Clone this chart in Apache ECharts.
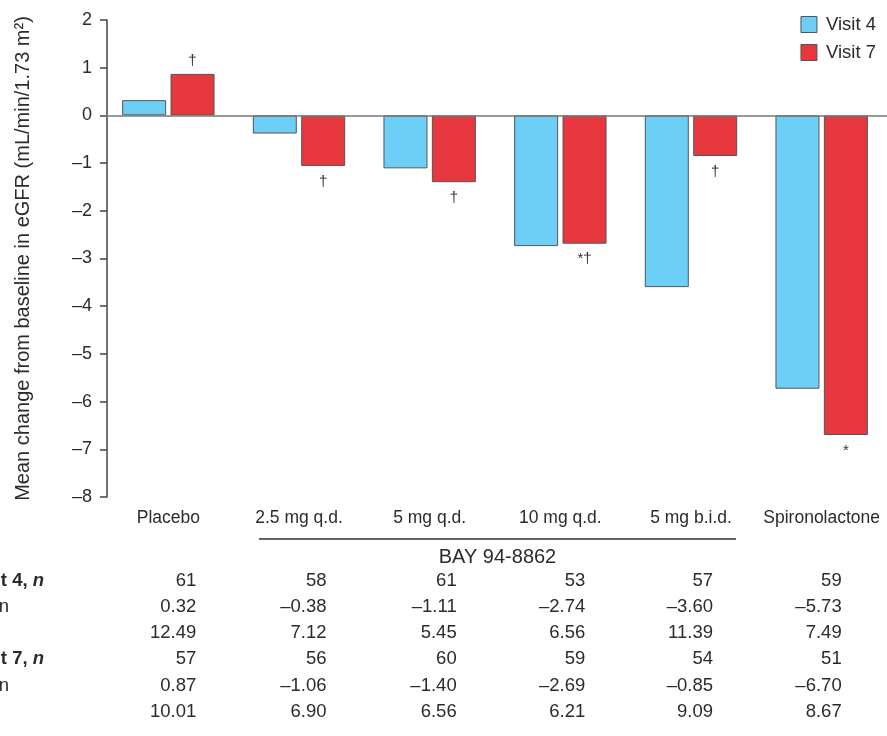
<!DOCTYPE html>
<html>
<head>
<meta charset="utf-8">
<script src="https://cdn.jsdelivr.net/npm/echarts@6/dist/echarts.min.js"></script>
<style>
  html, body { margin: 0; padding: 0; background: #fff; }
  #chart { width: 887px; height: 736px; }
</style>
</head>
<body>
<div id="chart"></div>
<script>
// Treatment groups along the category axis
const categories = ['Placebo', '2.5 mg q.d.', '5 mg q.d.', '10 mg q.d.', '5 mg b.i.d.', 'Spironolactone'];

// Mean change from baseline in eGFR
const visit4Mean = [0.32, -0.38, -1.11, -2.74, -3.60, -5.73];
const visit7Mean = [0.87, -1.06, -1.40, -2.69, -0.85, -6.70];

// Significance markers shown against the Visit 7 bars
const visit7Marks = ['†', '†', '†', '*†', '†', '*'];

// Summary table under the chart
const visit4N = [61, 58, 61, 53, 57, 59];
const visit4SD = [12.49, 7.12, 5.45, 6.56, 11.39, 7.49];
const visit7N = [57, 56, 60, 59, 54, 51];
const visit7SD = [10.01, 6.90, 6.56, 6.21, 9.09, 8.67];

// Y-axis range
const yMin = -8, yMax = 2, yStep = 1;

const FONT = '"Liberation Sans", Arial, Helvetica, sans-serif';
const TEXT = '#2b2b2b';
const CYAN = '#6dcff6';
const RED = '#e8383f';
const EDGE = '#555';

const dash = v => String(v).replace('-', '–');
const fmt2 = v => dash(v.toFixed(2));

const chart = echarts.init(document.getElementById('chart'), null, { renderer: 'canvas' });

chart.setOption({
  animation: false,
  backgroundColor: '#fff',
  textStyle: { fontFamily: FONT, color: TEXT },
  grid: { left: 103, top: 20, width: 785, height: 477, containLabel: false },
  legend: {
    orient: 'vertical',
    right: 6,
    top: 10,
    icon: 'rect',
    itemWidth: 16,
    itemHeight: 16,
    itemGap: 9,
    itemStyle: { borderColor: EDGE, borderWidth: 1 },
    textStyle: { fontFamily: FONT, fontSize: 18.5, color: TEXT, padding: [0, 0, 0, 4] },
    data: ['Visit 4', 'Visit 7']
  },
  xAxis: {
    type: 'category',
    data: categories,
    axisLine: { show: false },
    axisTick: { show: false },
    axisLabel: { fontFamily: FONT, fontSize: 17.5, color: TEXT, margin: 12, interval: 0 }
  },
  yAxis: {
    type: 'value',
    min: yMin,
    max: yMax,
    interval: yStep,
    offset: -4,
    name: 'Mean change from baseline in eGFR (mL/min/1.73 m²)',
    nameLocation: 'middle',
    nameRotate: 90,
    nameGap: 74,
    nameTextStyle: { fontFamily: FONT, fontSize: 20, color: TEXT },
    splitLine: { show: false },
    axisLine: { show: true, lineStyle: { color: '#444', width: 1.5 } },
    axisTick: { show: true, length: 7, lineStyle: { color: '#444', width: 1.5 } },
    axisLabel: { fontFamily: FONT, fontSize: 18, color: TEXT, margin: 15, formatter: v => dash(v) }
  },
  series: [
    {
      name: 'Visit 4',
      type: 'bar',
      data: visit4Mean,
      barWidth: 44,
      barGap: '10%',
      barCategoryGap: '28%',
      itemStyle: { color: CYAN, borderColor: EDGE, borderWidth: 1 },
      markLine: {
        silent: true,
        symbol: 'none',
        label: { show: false },
        lineStyle: { color: '#777', width: 1.5, type: 'solid' },
        data: [{ yAxis: 0 }]
      }
    },
    {
      name: 'Visit 7',
      type: 'bar',
      barWidth: 44,
      barGap: '10%',
      itemStyle: { color: RED, borderColor: EDGE, borderWidth: 1 },
      data: visit7Mean.map((v, i) => ({
        value: v,
        label: {
          show: true,
          position: v >= 0 ? 'top' : 'bottom',
          distance: v >= 0 ? 6 : 8,
          formatter: visit7Marks[i],
          fontFamily: FONT,
          fontSize: 15,
          color: '#333'
        }
      }))
    }
  ]
});

// Summary table and group bracket, placed on the category positions
function centerX(i) {
  return chart.convertToPixel({ xAxisIndex: 0 }, categories[i]);
}

const rows = [
  { label: [{ t: 'Visit 4, ', s: 'b' }, { t: 'n', s: 'bi' }], right: 44, values: visit4N.map(String) },
  { label: [{ t: 'Mean', s: 'r' }], right: 9, values: visit4Mean.map(fmt2) },
  { label: [{ t: 'SD', s: 'r' }], right: -10, values: visit4SD.map(v => v.toFixed(2)) },
  { label: [{ t: 'Visit 7, ', s: 'b' }, { t: 'n', s: 'bi' }], right: 44, values: visit7N.map(String) },
  { label: [{ t: 'Mean', s: 'r' }], right: 9, values: visit7Mean.map(fmt2) },
  { label: [{ t: 'SD', s: 'r' }], right: -10, values: visit7SD.map(v => v.toFixed(2)) }
];

const TABLE_SIZE = 18.5;
const rowTop = 580.5, rowStep = 26.3;
const colShift = [28, 27.5, 27, 25, 22, 20];
const graphics = [];

rows.forEach((row, r) => {
  const y = rowTop + r * rowStep;
  graphics.push({
    type: 'text',
    x: row.right,
    y: y,
    style: {
      text: row.label.map(p => '{' + p.s + '|' + p.t + '}').join(''),
      textAlign: 'right',
      textVerticalAlign: 'middle',
      rich: {
        b: { fontFamily: FONT, fontSize: TABLE_SIZE, fontWeight: 'bold', fill: TEXT, color: TEXT },
        bi: { fontFamily: FONT, fontSize: TABLE_SIZE, fontWeight: 'bold', fontStyle: 'italic', fill: TEXT, color: TEXT },
        r: { fontFamily: FONT, fontSize: TABLE_SIZE, fill: TEXT, color: TEXT }
      }
    }
  });
  row.values.forEach((val, c) => {
    graphics.push({
      type: 'text',
      x: centerX(c) + colShift[c],
      y: y,
      style: {
        text: val,
        textAlign: 'right',
        textVerticalAlign: 'middle',
        font: TABLE_SIZE + 'px ' + FONT,
        fill: TEXT
      }
    });
  });
});

// Bracket grouping the BAY 94-8862 doses
const bx1 = centerX(1) - 40, bx2 = centerX(4) + 45;
graphics.push({
  type: 'line',
  shape: { x1: bx1, y1: 539, x2: bx2, y2: 539 },
  style: { stroke: '#333', lineWidth: 1.5 }
});
graphics.push({
  type: 'text',
  x: (bx1 + bx2) / 2,
  y: 557,
  style: {
    text: 'BAY 94-8862',
    textAlign: 'center',
    textVerticalAlign: 'middle',
    font: '20px ' + FONT,
    fill: TEXT
  }
});

chart.setOption({ graphic: graphics });
</script>
</body>
</html>
